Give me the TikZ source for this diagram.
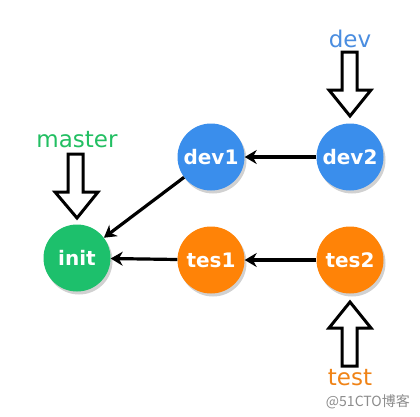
\documentclass[tikz,border=0pt]{standalone}
\usepackage{fontspec}
\setmainfont{DejaVu Sans}
\newfontfamily\cjkfont{Noto Sans CJK SC}
\usetikzlibrary{arrows.meta}
\definecolor{cblue}{HTML}{3A8EEC}
\definecolor{cgreen}{HTML}{1DC06C}
\definecolor{corange}{HTML}{FF8307}
\definecolor{lblue}{HTML}{4A8DE0}
\definecolor{lgreen}{HTML}{22BF62}
\definecolor{lorange}{HTML}{F08316}
\tikzset{
  commit/.style={circle, minimum size=67pt, inner sep=0pt, text=white, font=\bfseries\fontsize{20}{20}\selectfont},
  shade/.style={circle, fill=black!18, minimum size=67pt, inner sep=0pt},
  link/.style={line width=3.2pt, -{Stealth[length=12pt,width=14pt]}, black},
  bigarrow/.style={draw=black, fill=white, line width=3pt, line join=miter},
  lbl/.style={font=\fontsize{23}{23}\selectfont}
}
\begin{document}
\begin{tikzpicture}[x=1pt,y=-1pt]
\useasboundingbox[fill=white] (0,0) rectangle (420,416);
% shadows
\foreach \x/\y in {211/157, 350/157, 77/258, 211/260, 350/260}
  \node[shade] at (\x+2,\y+3) {};
\node[commit, fill=cblue] (dev1) at (211,157) {dev1};
\node[commit, fill=cblue] (dev2) at (350,157) {dev2};
\node[commit, fill=cgreen] (init) at (77,258) {init};
\node[commit, fill=corange] (tes1) at (211,260) {tes1};
\node[commit, fill=corange] (tes2) at (350,260) {tes2};
\draw[link] (dev2) -- (dev1);
\draw[link] (dev1) -- (init);
\draw[link] (tes1) -- (init);
\draw[link] (tes2) -- (tes1);
% labels
\node[lbl, text=lblue] (ldev) at (350,39) {dev};
\node[lbl, text=lgreen] (lmaster) at (77,140) {master};
\node[lbl, text=lorange] (ltest) at (350,378) {test};
% hollow arrows
\draw[bigarrow] (342,52) -- (357,52) -- (357,90) -- (371,90) -- (350,116) -- (329,90) -- (342,90) -- cycle;
\draw[bigarrow] (68,154) -- (83,154) -- (83,192) -- (98,192) -- (77,218) -- (55,192) -- (68,192) -- cycle;
\draw[bigarrow] (342,366) -- (357,366) -- (357,328) -- (371,328) -- (350,302) -- (329,328) -- (342,328) -- cycle;
\node[text=black!45, font=\cjkfont\fontsize{14}{14}\selectfont, anchor=east, inner sep=1pt] (wm) at (411,402) {@51CTO博客};
\end{tikzpicture}
\end{document}
